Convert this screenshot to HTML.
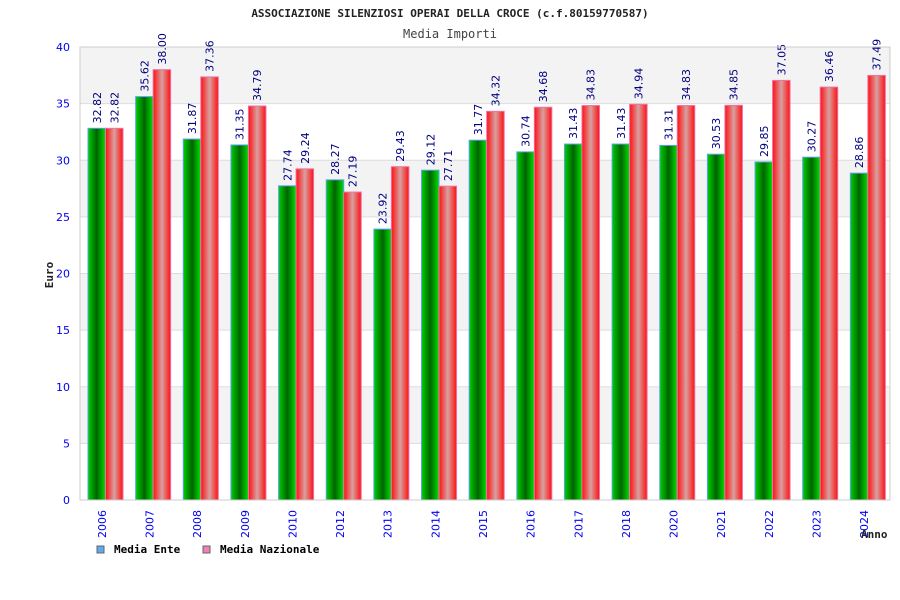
<!DOCTYPE html>
<html><head><meta charset="utf-8"><style>
body{margin:0;background:#fff;}
svg{display:block;font-family:"DejaVu Sans Mono","Liberation Mono",monospace;}
.s{font-family:"DejaVu Sans","Liberation Sans",sans-serif;}
</style></head><body>
<svg id="chart" width="900" height="600">
<defs>
<linearGradient id="gG" x1="0" x2="1" y1="0" y2="0"><stop offset="0" stop-color="#00d000"/><stop offset="0.5" stop-color="#006400"/><stop offset="1" stop-color="#00e000"/></linearGradient>
<linearGradient id="gR" x1="0" x2="1" y1="0" y2="0"><stop offset="0" stop-color="#ff1010"/><stop offset="0.5" stop-color="#d8a0a0"/><stop offset="1" stop-color="#ff1010"/></linearGradient>
</defs>
<text x="450" y="17" text-anchor="middle" font-size="11" font-weight="bold" fill="#222">ASSOCIAZIONE SILENZIOSI OPERAI DELLA CROCE (c.f.80159770587)</text>
<text x="450" y="38" text-anchor="middle" font-size="12" fill="#444">Media Importi</text>
<g id="bands"></g><g id="grid"></g><g id="bars"></g><g id="axes"></g>
<text transform="translate(53,275) rotate(-90)" text-anchor="middle" font-size="11" font-weight="bold" fill="#222">Euro</text>
<text x="861" y="538" font-size="11" font-weight="bold" fill="#222">Anno</text>
<g><rect x="97" y="546" width="7" height="7" fill="#60a8f0" stroke="#666"/><text x="114" y="553" font-size="11" font-weight="bold" fill="#000">Media Ente</text></g>
<g><rect x="203" y="546" width="7" height="7" fill="#f080b8" stroke="#666"/><text x="220" y="553" font-size="11" font-weight="bold" fill="#000">Media Nazionale</text></g>
</svg>
<script>
const categories=["2006","2007","2008","2009","2010","2012","2013","2014","2015","2016","2017","2018","2020","2021","2022","2023","2024"];
const enteValues=[32.82,35.62,31.87,31.35,27.74,28.27,23.92,29.12,31.77,30.74,31.43,31.43,31.31,30.53,29.85,30.27,28.86];
const nazValues=[32.82,38.00,37.36,34.79,29.24,27.19,29.43,27.71,34.32,34.68,34.83,34.94,34.83,34.85,37.05,36.46,37.49];
const yTicks=[0,5,10,15,20,25,30,35,40];
const NS="http://www.w3.org/2000/svg";
const X0=80,X1=890,Y0=500,Y1=47,YMAX=40;
const y=v=>Y0-(v/YMAX)*(Y0-Y1);
const band=(X1-X0)/categories.length;
const x=i=>X0+i*band;
function mk(t,a,p){const e=document.createElementNS(NS,t);for(const k in a)e.setAttribute(k,a[k]);p.appendChild(e);return e;}
const bands=document.getElementById('bands'),grid=document.getElementById('grid'),bars=document.getElementById('bars'),axes=document.getElementById('axes');
for(let i=0;i<yTicks.length-1;i++){
 const r=mk('rect',{x:X0,y:y(yTicks[i+1]),width:X1-X0,height:y(yTicks[i])-y(yTicks[i+1]),fill:(i%2==1)?'#f3f3f3':'#ffffff'},bands);
 
 
}
yTicks.forEach(t=>{
 const l=mk('line',{x1:X0,x2:X1,y1:y(t),y2:y(t),stroke:'#ddd'},grid);
 
 
 const tx=mk('text',{x:X0-10,y:y(t)+4,'text-anchor':'end','font-size':'11',fill:'#0000ee','class':'s'},axes);tx.textContent=t;
 
 
});
mk('rect',{x:X0,y:Y1,width:X1-X0,height:Y0-Y1,fill:'none',stroke:'#ccc'},axes);
const bw=17.5;
categories.forEach((c,i)=>{
 const gx=x(i)+8, rx=gx+bw;
 const g=mk('rect',{x:gx,y:y(enteValues[i]),width:bw,height:Y0-y(enteValues[i]),fill:'url(#gG)',stroke:'#5aa0f0','stroke-width':1},bars);
 
 
 const r=mk('rect',{x:rx,y:y(nazValues[i]),width:bw,height:Y0-y(nazValues[i]),fill:'url(#gR)',stroke:'#f070a8','stroke-width':1},bars);
 
 
 [[gx,enteValues[i]],[rx,nazValues[i]]].forEach(([bx,v])=>{
  const t=mk('text',{transform:`translate(${bx+bw/2+4},${y(v)-5}) rotate(-90)`,'font-size':'11',fill:'#000080','class':'s'},bars);
  t.textContent=v.toFixed(2);
  
  
 });
 const xl=mk('text',{transform:`translate(${x(i)+band/2-2+4},${Y0+10}) rotate(-90)`,'text-anchor':'end','font-size':'11',fill:'#0000ee','class':'s'},axes);
 xl.textContent=c;
 
 
});
</script>
</body></html>
